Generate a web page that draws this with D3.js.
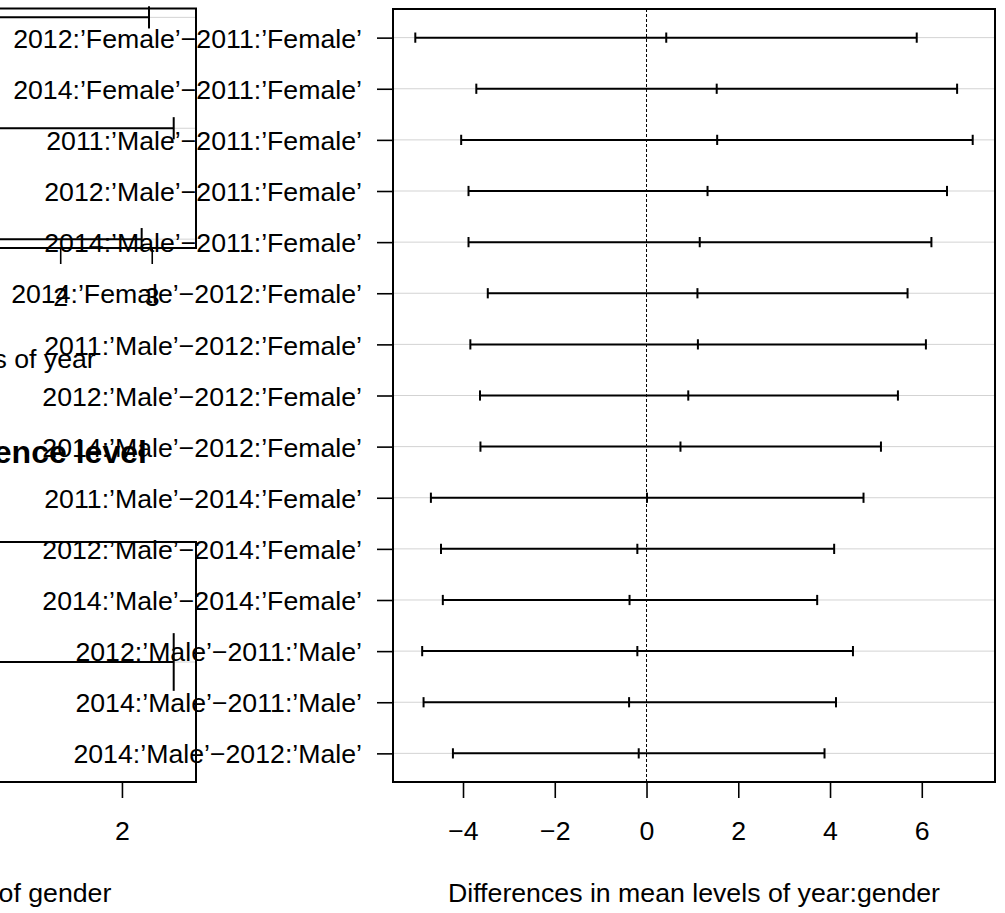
<!DOCTYPE html>
<html>
<head>
<meta charset="utf-8">
<title>Tukey HSD: year, gender, year:gender</title>
<script src="https://cdn.jsdelivr.net/npm/d3@7"></script>
<style>
  body { margin: 0; background: #fff; }
  svg text { font-family: "Liberation Sans", Arial, Helvetica, sans-serif; fill: #000; }
</style>
</head>
<body>
<div id="chart"></div>
<script>
// year
const yearLabels = ["2012\u22122011", "2014\u22122011", "2014\u22122012"];
const yearLwr  = [-2.85, -2.10, -1.87];
const yearDiff = [ 0.06,  0.57,  0.51];
const yearUpr  = [ 2.97,  3.24,  2.89];

// gender
const genderLabels = ["\u2019Male\u2019\u2212\u2019Female\u2019"];
const genderLwr  = [-1.81];
const genderDiff = [ 0.29];
const genderUpr  = [ 2.39];

// year:gender
const ygLabels = [
  "2012:\u2019Female\u2019\u22122011:\u2019Female\u2019",
  "2014:\u2019Female\u2019\u22122011:\u2019Female\u2019",
  "2011:\u2019Male\u2019\u22122011:\u2019Female\u2019",
  "2012:\u2019Male\u2019\u22122011:\u2019Female\u2019",
  "2014:\u2019Male\u2019\u22122011:\u2019Female\u2019",
  "2014:\u2019Female\u2019\u22122012:\u2019Female\u2019",
  "2011:\u2019Male\u2019\u22122012:\u2019Female\u2019",
  "2012:\u2019Male\u2019\u22122012:\u2019Female\u2019",
  "2014:\u2019Male\u2019\u22122012:\u2019Female\u2019",
  "2011:\u2019Male\u2019\u22122014:\u2019Female\u2019",
  "2012:\u2019Male\u2019\u22122014:\u2019Female\u2019",
  "2014:\u2019Male\u2019\u22122014:\u2019Female\u2019",
  "2012:\u2019Male\u2019\u22122011:\u2019Male\u2019",
  "2014:\u2019Male\u2019\u22122011:\u2019Male\u2019",
  "2014:\u2019Male\u2019\u22122012:\u2019Male\u2019"
];
const ygLwr  = [-5.04, -3.71, -4.04, -3.88, -3.88, -3.46, -3.84, -3.63, -3.62, -4.70, -4.48, -4.44, -4.89, -4.86, -4.22];
const ygDiff = [ 0.43,  1.53,  1.54,  1.33,  1.16,  1.11,  1.12,  0.91,  0.74,  0.01, -0.20, -0.37, -0.20, -0.38, -0.17];
const ygUpr  = [ 5.89,  6.77,  7.11,  6.55,  6.21,  5.69,  6.09,  5.48,  5.11,  4.73,  4.09,  3.72,  4.50,  4.13,  3.88];

const W = 1005, H = 913;
const FS = 26.7;

const svg = d3.select("#chart").append("svg")
  .attr("width", W)
  .attr("height", H)
  .style("display", "block");

svg.append("rect").attr("width", W).attr("height", H).attr("fill", "#fff");

const fmt = v => (v < 0 ? "\u2212" : "") + Math.abs(v);

function tukeyPanel(o) {
  const n = o.labels.length;
  const yvals = d3.range(n, 0, -1);
  const lo = d3.min(o.lwr), hi = d3.max(o.upr), pad = (hi - lo) * 0.04;
  const x = d3.scaleLinear()
    .domain([lo - pad, hi + pad])
    .range([o.left, o.left + o.width]);
  const yDom = n > 1 ? [1 - (n - 1) * 0.04, n + (n - 1) * 0.04] : [0.584, 1.416];
  const y = d3.scaleLinear()
    .domain(yDom)
    .range([o.top + o.height, o.top]);
  const bottom = o.top + o.height;

  const g = svg.append("g");

  // x axis
  const xa = g.append("g")
    .attr("transform", `translate(0,${bottom})`)
    .call(d3.axisBottom(x).ticks(5).tickSize(16).tickFormat(fmt));
  xa.select(".domain").remove();
  xa.selectAll(".tick line").attr("stroke", "#000").attr("stroke-width", 1.6);
  xa.selectAll(".tick text")
    .attr("y", 58).attr("dy", null)
    .style("font-size", FS + "px");

  // y axis
  const ya = g.append("g")
    .attr("transform", `translate(${o.left},0)`)
    .call(d3.axisLeft(y).tickValues(yvals).tickSize(16).tickFormat((d, i) => o.labels[i]));
  ya.select(".domain").remove();
  ya.selectAll(".tick line").attr("stroke", "#000").attr("stroke-width", 1.6);
  ya.selectAll(".tick text")
    .attr("x", -31).attr("dy", "0.36em")
    .style("font-size", FS + "px");

  // grid lines and zero line
  g.append("g").selectAll("line").data(yvals).join("line")
    .attr("x1", o.left).attr("x2", o.left + o.width)
    .attr("y1", d => y(d)).attr("y2", d => y(d))
    .attr("stroke", "#d3d3d3").attr("stroke-width", 1);
  if (x.domain()[0] < 0 && x.domain()[1] > 0) {
    g.append("line")
      .attr("x1", x(0)).attr("x2", x(0))
      .attr("y1", o.top).attr("y2", bottom)
      .attr("stroke", "#000").attr("stroke-width", 1)
      .attr("stroke-dasharray", "3,2");
  }

  // intervals
  const rows = o.labels.map((lab, i) => ({ yv: yvals[i], lwr: o.lwr[i], diff: o.diff[i], upr: o.upr[i] }));
  g.append("g").selectAll("line").data(rows).join("line")
    .attr("x1", d => x(d.lwr)).attr("x2", d => x(d.upr))
    .attr("y1", d => y(d.yv)).attr("y2", d => y(d.yv))
    .attr("stroke", "#000").attr("stroke-width", 2);
  const ticks = rows.flatMap(d => [d.lwr, d.diff, d.upr].map(v => ({ v, yv: d.yv })));
  g.append("g").selectAll("line").data(ticks).join("line")
    .attr("x1", d => x(d.v)).attr("x2", d => x(d.v))
    .attr("y1", d => y(d.yv - 0.1)).attr("y2", d => y(d.yv + 0.1))
    .attr("stroke", "#000").attr("stroke-width", 2);

  // titles
  const cx = o.left + o.width / 2;
  g.append("text")
    .attr("x", cx).attr("y", o.top - 79)
    .attr("text-anchor", "middle")
    .style("font-size", (FS * 1.2) + "px")
    .style("font-weight", "bold")
    .text("95% family-wise confidence level");
  g.append("text")
    .attr("x", cx).attr("y", bottom + 120)
    .attr("text-anchor", "middle")
    .style("font-size", FS + "px")
    .text("Differences in mean levels of " + o.name);

  // box
  g.append("rect")
    .attr("x", o.left).attr("y", o.top)
    .attr("width", o.width).attr("height", o.height)
    .attr("fill", "none").attr("stroke", "#000").attr("stroke-width", 2);
}

tukeyPanel({ name: "year", labels: yearLabels, lwr: yearLwr, diff: yearDiff, upr: yearUpr,
  left: -406, top: 8.5, width: 602, height: 239.5 });
tukeyPanel({ name: "gender", labels: genderLabels, lwr: genderLwr, diff: genderDiff, upr: genderUpr,
  left: -406, top: 542, width: 602, height: 240 });
tukeyPanel({ name: "year:gender", labels: ygLabels, lwr: ygLwr, diff: ygDiff, upr: ygUpr,
  left: 393, top: 9, width: 602, height: 773 });
</script>
</body>
</html>
